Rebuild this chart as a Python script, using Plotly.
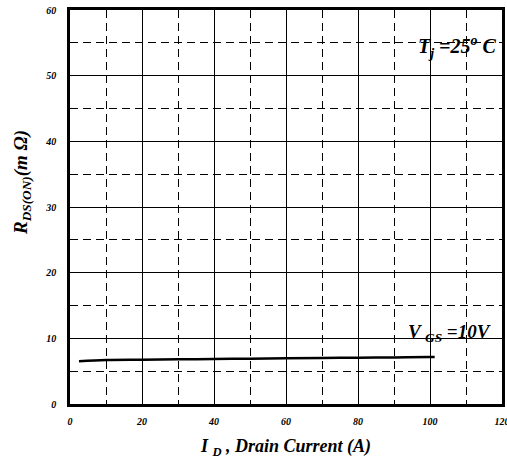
import plotly.graph_objects as go

current_a = [2.5, 10, 20, 30, 40, 50, 60, 70, 80, 90, 100, 101.3]
rdson_mohm = [6.5, 6.7, 6.75, 6.8, 6.85, 6.9, 6.95, 7.0, 7.05, 7.1, 7.15, 7.15]
x_ticks = [0, 20, 40, 60, 80, 100, 120]
y_ticks = [0, 10, 20, 30, 40, 50, 60]

FONT = "Liberation Serif, Times New Roman, serif"


def bi(s):
    return "<b><i>" + s + "</i></b>"


fig = go.Figure()
fig.add_trace(go.Scatter(x=current_a, y=rdson_mohm, mode="lines",
                         line=dict(color="black", width=2.5, shape="spline"),
                         showlegend=False, hoverinfo="skip"))

tickfont = dict(family=FONT, size=10, color="black")
axis_common = dict(showline=True, linewidth=2.5, linecolor="black", mirror=True,
                   showgrid=True, gridcolor="black", gridwidth=1,
                   zeroline=False, ticks="", tickfont=tickfont, automargin=False,
                   ticklabeloverflow="allow")

fig.update_xaxes(range=[0, 120], tickvals=x_ticks, ticktext=[bi(str(v)) for v in x_ticks],
                 minor=dict(dtick=10, tick0=0, showgrid=True, gridcolor="black",
                            gridwidth=1, griddash="8px,5px"),
                 title=dict(text=bi("I <sub>D</sub> , Drain Current (A)"),
                            font=dict(family=FONT, size=18, color="black"),
                            standoff=14),
                 ticklabelstandoff=6,
                 **axis_common)
fig.update_yaxes(range=[0, 60], tickvals=y_ticks, ticktext=[bi(str(v)) for v in y_ticks],
                 minor=dict(dtick=5, tick0=0, showgrid=True, gridcolor="black",
                            gridwidth=1, griddash="8px,5px"),
                 ticklabelstandoff=9,
                 **axis_common)

fig.add_annotation(x=-0.111, y=0.561, xref="paper", yref="paper",
                   text=bi("R<sub>DS(ON)</sub>(m Ω)"), textangle=-90,
                   showarrow=False, xanchor="center", yanchor="middle",
                   font=dict(family=FONT, size=19, color="black"))

fig.add_annotation(x=119.3, y=54.3, xref="x", yref="y",
                   text=bi("T<sub>j</sub> =25<sup>o</sup> C"),
                   showarrow=False, xanchor="right", yanchor="middle", font=annfont if False else dict(family=FONT, size=20, color="black"))
fig.add_annotation(x=117.6, y=10.8, xref="x", yref="y",
                   text=bi("V <sub>GS</sub> =10V"),
                   showarrow=False, xanchor="right", yanchor="middle",
                   font=dict(family=FONT, size=19, color="black"))

fig.update_layout(width=507, height=467,
                  margin=dict(l=70, r=5, t=10, b=63),
                  plot_bgcolor="white", paper_bgcolor="white")

fig.write_html("out.html", config={"displayModeBar": False},
               post_script="document.body.style.margin='0';")
